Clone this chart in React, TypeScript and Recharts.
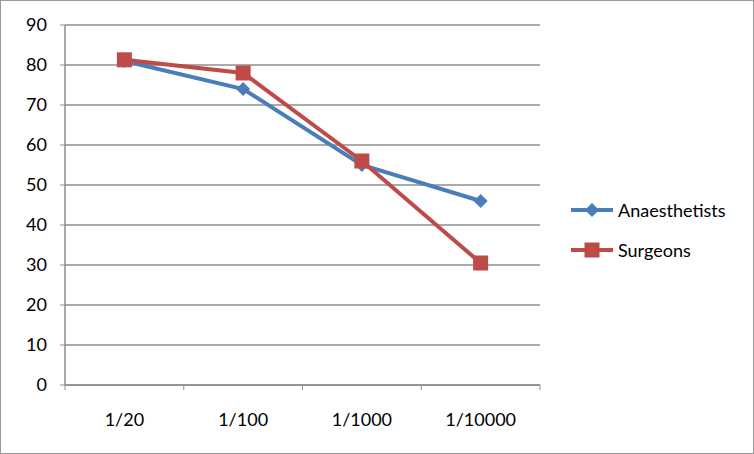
import { LineChart, Line, XAxis, YAxis, CartesianGrid } from 'recharts';

const odds = ['1/20', '1/100', '1/1000', '1/10000'];
const anaesthetists = [81, 74, 55, 46];
const surgeons = [81.3, 78, 56, 30.5];
const yTicks = [0, 10, 20, 30, 40, 50, 60, 70, 80, 90];

const data = odds.map((odd, i) => ({
  odd,
  anaesthetists: anaesthetists[i],
  surgeons: surgeons[i],
}));

const BLUE = '#4a7ebb';
const RED = '#be4b48';
const GREY = '#8e8e8e';
const FONT = 'Lato, "Open Sans", sans-serif';
const FONT_SIZE = 18;
const X_TICK_MARGIN = 22;

const Diamond = (props: any) => {
  const { cx, cy, fill } = props;
  if (cx == null || cy == null) return null;
  const r = 7;
  return <path d={`M${cx},${cy - r}L${cx + r},${cy}L${cx},${cy + r}L${cx - r},${cy}Z`} fill={fill} />;
};

const Square = (props: any) => {
  const { cx, cy, fill } = props;
  if (cx == null || cy == null) return null;
  const s = 15;
  return <rect x={cx - s / 2} y={cy - s / 2} width={s} height={s} fill={fill} />;
};

// label centred in the band, tick marks on the band edges
const OddTick = (props: any) => {
  const { x, y, payload, index, visibleTicksCount } = props;
  const half = payload?.offset ?? 59.4;
  const top = y - X_TICK_MARGIN - 6;
  return (
    <g>
      <line x1={x - half} y1={top} x2={x - half} y2={top + 5} stroke={GREY} />
      {index === visibleTicksCount - 1 && (
        <line x1={x + half} y1={top} x2={x + half} y2={top + 5} stroke={GREY} />
      )}
      <text x={x} y={y} dy="0.71em" textAnchor="middle" fill="#000" fontSize={FONT_SIZE} fontFamily={FONT}>
        {payload.value}
      </text>
    </g>
  );
};

const LegendBox = () => (
  <div style={{ fontFamily: FONT, fontSize: FONT_SIZE, color: '#000' }}>
    {[
      { name: 'Anaesthetists', color: BLUE, shape: 'diamond' },
      { name: 'Surgeons', color: RED, shape: 'square' },
    ].map((item, i) => (
      <div key={item.name} style={{ display: 'flex', alignItems: 'center', height: 24, marginBottom: i === 0 ? 16 : 0 }}>
        <svg width={45} height={20} style={{ marginRight: 3 }}>
          <line x1={1} y1={10} x2={43} y2={10} stroke={item.color} strokeWidth={4} />
          {item.shape === 'diamond' ? (
            <path d="M22,3L29,10L22,17L15,10Z" fill={item.color} />
          ) : (
            <rect x={14.5} y={2.5} width={15} height={15} fill={item.color} />
          )}
        </svg>
        <span>{item.name}</span>
      </div>
    ))}
  </div>
);

export default function App() {
  return (
    <div
      style={{
        position: 'absolute',
        left: 0,
        top: 0,
        width: 754,
        height: 454,
        background: '#fff',
        boxSizing: 'border-box',
        border: '1px solid #999',
      }}
    >
      <div style={{ position: 'absolute', left: -1, top: -1 }}>
        <LineChart width={754} height={454} data={data} margin={{ top: 25, right: 214, bottom: 0, left: 0 }}>
          <CartesianGrid vertical={false} stroke={GREY} strokeWidth={1.5} />
          <XAxis
            dataKey="odd"
            scale="band"
            height={69}
            axisLine={{ stroke: GREY, strokeWidth: 1.5 }}
            tickLine={false}
            tickMargin={X_TICK_MARGIN}
            tick={<OddTick />}
            interval={0}
          />
          <YAxis
            domain={[0, 90]}
            ticks={yTicks}
            width={65}
            axisLine={{ stroke: GREY, strokeWidth: 1.5 }}
            tickLine={{ stroke: GREY }}
            tickSize={5}
            tickMargin={13}
            tick={{ fill: '#000', fontSize: FONT_SIZE, fontFamily: FONT }}
          />
          <Line
            dataKey="anaesthetists"
            name="Anaesthetists"
            stroke={BLUE}
            strokeWidth={4}
            fill={BLUE}
            dot={<Diamond fill={BLUE} />}
            activeDot={false}
            isAnimationActive={false}
          />
          <Line
            dataKey="surgeons"
            name="Surgeons"
            stroke={RED}
            strokeWidth={4}
            fill={RED}
            dot={<Square fill={RED} />}
            activeDot={false}
            isAnimationActive={false}
          />
        </LineChart>
      </div>
      <div style={{ position: 'absolute', left: 569, top: 197 }}>
        <LegendBox />
      </div>
    </div>
  );
}
